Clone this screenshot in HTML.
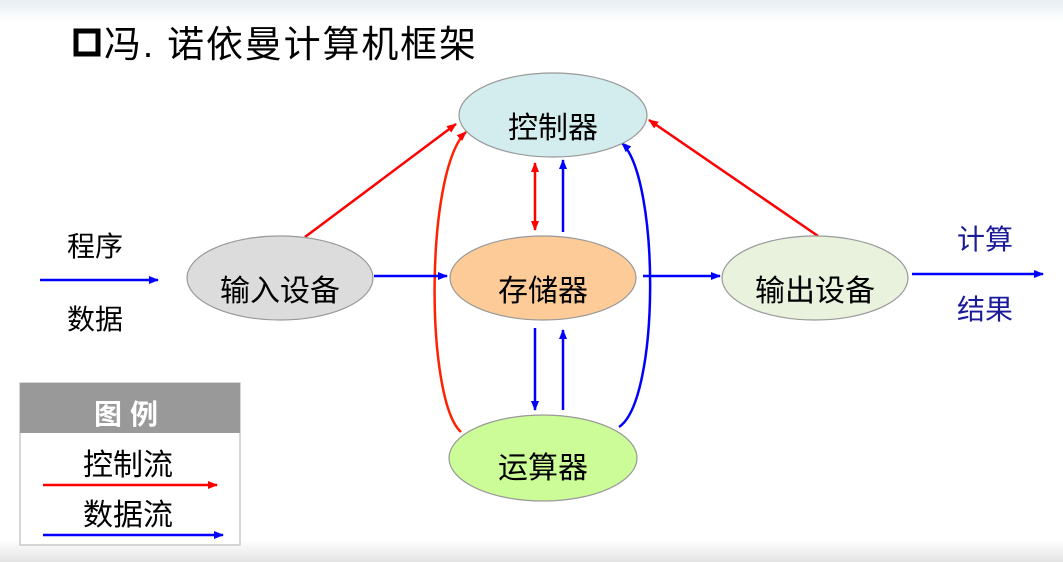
<!DOCTYPE html>
<html><head><meta charset="utf-8"><style>
body{margin:0;width:1063px;height:562px;overflow:hidden;background:#fff;font-family:"Liberation Sans","Noto Sans CJK SC",sans-serif}
</style></head><body>
<svg width="1063" height="562" viewBox="0 0 1063 562" xmlns="http://www.w3.org/2000/svg" style="position:absolute;left:0;top:0">
<defs>
<linearGradient id="tg" x1="0" y1="0" x2="0" y2="1"><stop offset="0" stop-color="#e8eef4"/><stop offset="1" stop-color="#fff"/></linearGradient>
<linearGradient id="bg" x1="0" y1="0" x2="0" y2="1"><stop offset="0" stop-color="#fff"/><stop offset="1" stop-color="#e4e4e4"/></linearGradient>
<marker id="ab" markerWidth="10" markerHeight="8" refX="9" refY="4" orient="auto" markerUnits="userSpaceOnUse"><path d="M0,0 L10,4 L0,8 z" fill="#0000ff"/></marker>
<marker id="ar" markerWidth="10" markerHeight="8" refX="9" refY="4" orient="auto" markerUnits="userSpaceOnUse"><path d="M0,0 L10,4 L0,8 z" fill="#ff0000"/></marker>
<marker id="ars" markerWidth="10" markerHeight="8" refX="1" refY="4" orient="auto" markerUnits="userSpaceOnUse"><path d="M10,0 L0,4 L10,8 z" fill="#ff0000"/></marker>
</defs>
<rect x="0" y="0" width="1063" height="22" fill="url(#tg)"/>
<rect x="0" y="540" width="1063" height="22" fill="url(#bg)"/>
<rect x="76" y="31" width="22" height="23" fill="none" stroke="#000" stroke-width="5"/>
<text x="104" y="57" font-size="37" fill="#000" textLength="372">冯. 诺依曼计算机框架</text>

<g stroke-width="2.5" fill="none">
<line x1="305" y1="237" x2="456" y2="124" stroke="#ff0000" marker-end="url(#ar)"/>
<line x1="818" y1="236" x2="649" y2="120" stroke="#ff0000" marker-end="url(#ar)"/>
<line x1="535" y1="163" x2="535" y2="230" stroke="#ff0000" marker-start="url(#ars)" marker-end="url(#ar)"/>
<line x1="563" y1="232" x2="563" y2="160" stroke="#0000ff" marker-end="url(#ab)"/>
<line x1="535" y1="328" x2="535" y2="410" stroke="#0000ff" marker-end="url(#ab)"/>
<line x1="563" y1="410" x2="563" y2="330" stroke="#0000ff" marker-end="url(#ab)"/>
<path d="M461,432 C425,400 425,170 466,132" stroke="#ff2200" marker-end="url(#ar)"/>
<path d="M619,427 C660,400 660,180 622,143" stroke="#0000ff" marker-end="url(#ab)"/>
<line x1="374" y1="276" x2="447" y2="276" stroke="#0000ff" marker-end="url(#ab)"/>
<line x1="643" y1="276" x2="720" y2="276" stroke="#0000ff" marker-end="url(#ab)"/>
<line x1="40" y1="280" x2="158" y2="280" stroke="#0000ff" marker-end="url(#ab)"/>
<line x1="912" y1="274" x2="1043" y2="274" stroke="#0000ff" marker-end="url(#ab)"/>
</g>

<g stroke="#999" stroke-width="1.2">
<ellipse cx="553" cy="115" rx="94" ry="42" fill="#d3ecee"/>
<ellipse cx="543" cy="278" rx="93" ry="42" fill="#fccb98"/>
<ellipse cx="543" cy="458" rx="94" ry="43" fill="#ccfc98"/>
<ellipse cx="280" cy="278" rx="93" ry="42" fill="#dcdcdc"/>
<ellipse cx="815" cy="278" rx="93" ry="42" fill="#e8f2dc"/>
</g>
<g font-size="30" fill="#000" text-anchor="middle">
<text x="553" y="138">控制器</text>
<text x="543" y="301">存储器</text>
<text x="543" y="478">运算器</text>
<text x="280" y="301">输入设备</text>
<text x="815" y="301">输出设备</text>
<text x="95" y="256" font-size="28">程序</text>
<text x="95" y="329" font-size="28">数据</text>
<text x="985" y="249" font-size="28" fill="#1a1a9a">计算</text>
<text x="985" y="319" font-size="28" fill="#1a1a9a">结果</text>
</g>

<rect x="20" y="383" width="220" height="162" fill="#fff" stroke="#c8c8c8" stroke-width="1.5"/>
<rect x="20" y="383" width="220" height="50" fill="#999"/>
<text x="130" y="424" font-size="28" font-weight="bold" fill="#fff" text-anchor="middle" letter-spacing="8">图例</text>
<text x="128" y="475" font-size="30" fill="#000" text-anchor="middle">控制流</text>
<text x="128" y="525" font-size="30" fill="#000" text-anchor="middle">数据流</text>
<line x1="43" y1="485" x2="217" y2="485" stroke="#ff0000" stroke-width="2.5" marker-end="url(#ar)"/>
<line x1="43" y1="535" x2="223" y2="535" stroke="#0000ff" stroke-width="2.5" marker-end="url(#ab)"/>
</svg>
</body></html>
